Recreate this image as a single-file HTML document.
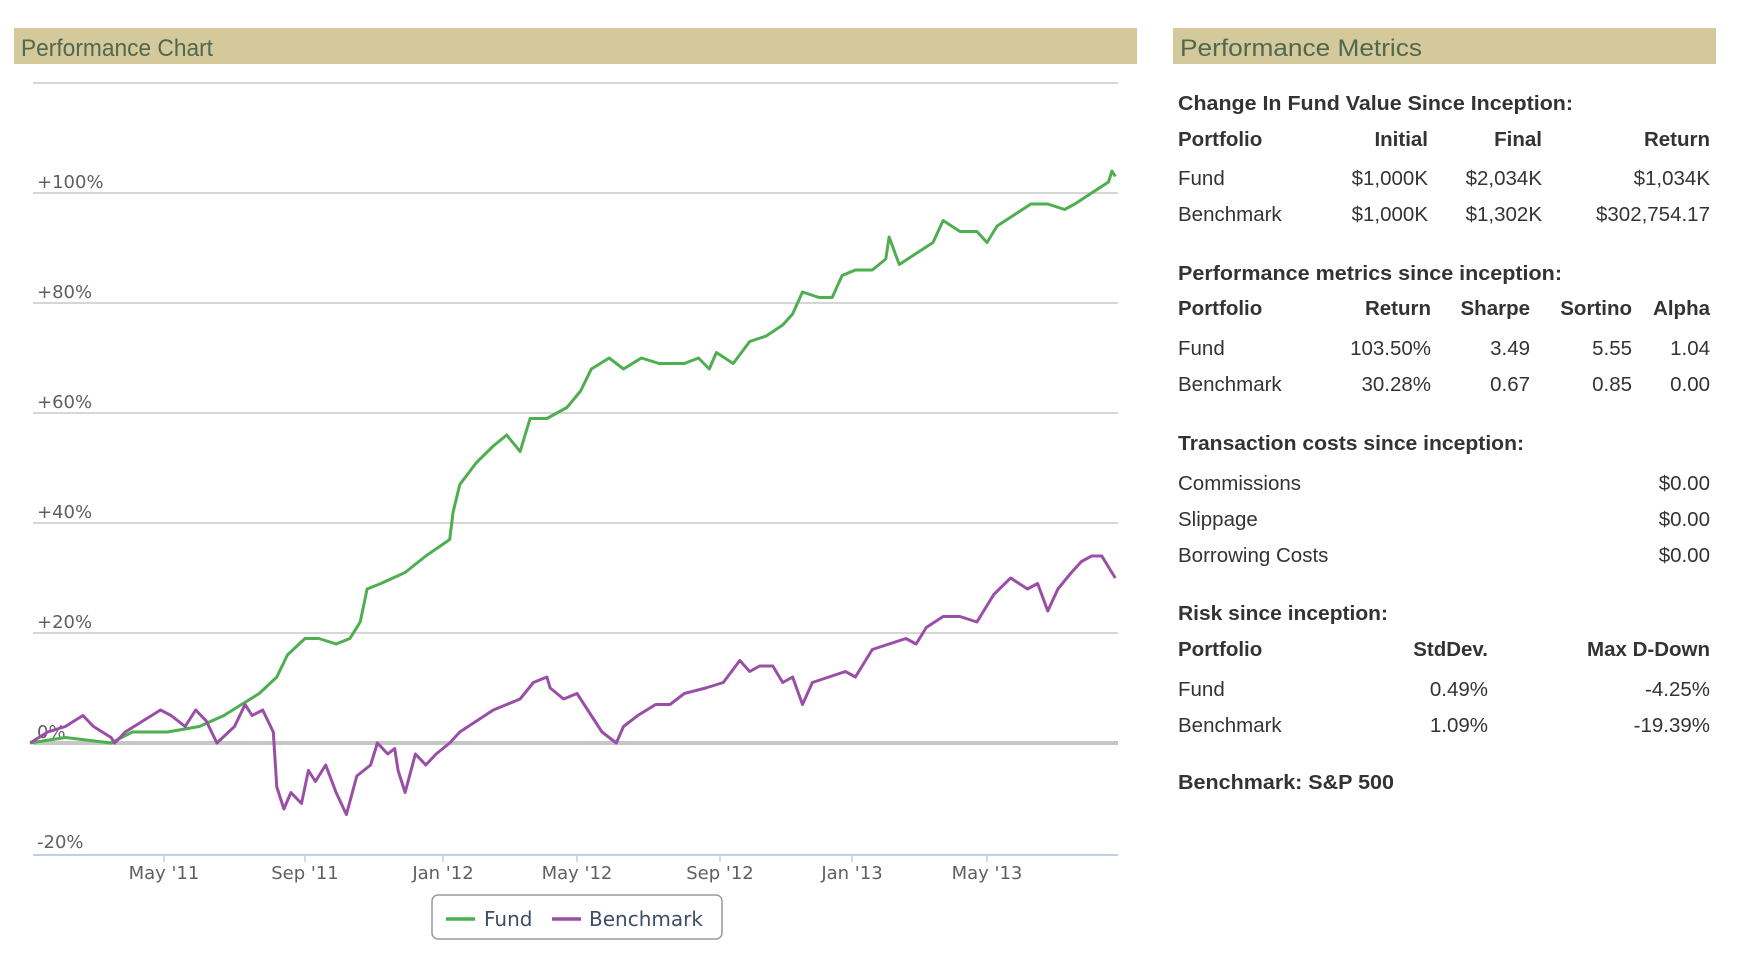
<!DOCTYPE html>
<html><head><meta charset="utf-8"><style>
html,body{margin:0;padding:0;background:#fff;width:1738px;height:974px;overflow:hidden}
svg{display:block}
</style></head><body>
<svg width="1738" height="974" xmlns="http://www.w3.org/2000/svg">
  <rect x="14" y="28" width="1123" height="36" fill="#d4c99b"/>
  <text x="21" y="56" font-family="Liberation Sans, sans-serif" font-size="24" fill="#52674f" textLength="192" lengthAdjust="spacingAndGlyphs">Performance Chart</text>
  <rect x="1173" y="28" width="543" height="36" fill="#d4c99b"/>
  <text x="1180" y="56" font-family="Liberation Sans, sans-serif" font-size="24" fill="#52674f" textLength="242" lengthAdjust="spacingAndGlyphs">Performance Metrics</text>

  <g id="grid"></g>
  <g id="ylabels"></g>
  <line x1="33" y1="855" x2="1118" y2="855" stroke="#c0d0e0" stroke-width="2"/>
  <g id="xticks"></g>
  <g id="series"></g>

  <g>
    <rect x="432" y="895" width="290" height="44" rx="6" fill="#fff" stroke="#999" stroke-width="1.5"/>
    <g>
      <line x1="446" y1="919" x2="475" y2="919" stroke="#4fae4f" stroke-width="3.5"/>
      <text x="484" y="926" font-family="DejaVu Sans, sans-serif" font-size="20" fill="#3d4d68">Fund</text>
    </g>
    <g>
      <line x1="552" y1="919" x2="581" y2="919" stroke="#9a4fa6" stroke-width="3.5"/>
      <text x="589" y="926" font-family="DejaVu Sans, sans-serif" font-size="20" fill="#3d4d68">Benchmark</text>
    </g>
  </g>

  <g font-family="Liberation Sans, sans-serif" font-size="20.5" fill="#333">
    <text x="1178" y="110" font-weight="bold" textLength="395" lengthAdjust="spacingAndGlyphs">Change In Fund Value Since Inception:</text>
    <g font-weight="bold">
      <text x="1178" y="146">Portfolio</text>
      <text x="1428" y="146" text-anchor="end">Initial</text>
      <text x="1542" y="146" text-anchor="end">Final</text>
      <text x="1710" y="146" text-anchor="end">Return</text>
    </g>
    <g>
      <text x="1178" y="185">Fund</text>
      <text x="1428" y="185" text-anchor="end">$1,000K</text>
      <text x="1542" y="185" text-anchor="end">$2,034K</text>
      <text x="1710" y="185" text-anchor="end">$1,034K</text>
    </g>
    <g>
      <text x="1178" y="221">Benchmark</text>
      <text x="1428" y="221" text-anchor="end">$1,000K</text>
      <text x="1542" y="221" text-anchor="end">$1,302K</text>
      <text x="1710" y="221" text-anchor="end">$302,754.17</text>
    </g>

    <text x="1178" y="280" font-weight="bold" textLength="384" lengthAdjust="spacingAndGlyphs">Performance metrics since inception:</text>
    <g font-weight="bold">
      <text x="1178" y="315">Portfolio</text>
      <text x="1431" y="315" text-anchor="end">Return</text>
      <text x="1530" y="315" text-anchor="end">Sharpe</text>
      <text x="1632" y="315" text-anchor="end">Sortino</text>
      <text x="1710" y="315" text-anchor="end">Alpha</text>
    </g>
    <g>
      <text x="1178" y="355">Fund</text>
      <text x="1431" y="355" text-anchor="end">103.50%</text>
      <text x="1530" y="355" text-anchor="end">3.49</text>
      <text x="1632" y="355" text-anchor="end">5.55</text>
      <text x="1710" y="355" text-anchor="end">1.04</text>
    </g>
    <g>
      <text x="1178" y="391">Benchmark</text>
      <text x="1431" y="391" text-anchor="end">30.28%</text>
      <text x="1530" y="391" text-anchor="end">0.67</text>
      <text x="1632" y="391" text-anchor="end">0.85</text>
      <text x="1710" y="391" text-anchor="end">0.00</text>
    </g>

    <text x="1178" y="450" font-weight="bold" textLength="346" lengthAdjust="spacingAndGlyphs">Transaction costs since inception:</text>
    <g><text x="1178" y="490">Commissions</text><text x="1710" y="490" text-anchor="end">$0.00</text></g>
    <g><text x="1178" y="526">Slippage</text><text x="1710" y="526" text-anchor="end">$0.00</text></g>
    <g><text x="1178" y="562">Borrowing Costs</text><text x="1710" y="562" text-anchor="end">$0.00</text></g>

    <text x="1178" y="620" font-weight="bold" textLength="210" lengthAdjust="spacingAndGlyphs">Risk since inception:</text>
    <g font-weight="bold">
      <text x="1178" y="656">Portfolio</text>
      <text x="1488" y="656" text-anchor="end">StdDev.</text>
      <text x="1710" y="656" text-anchor="end">Max D-Down</text>
    </g>
    <g>
      <text x="1178" y="696">Fund</text>
      <text x="1488" y="696" text-anchor="end">0.49%</text>
      <text x="1710" y="696" text-anchor="end">-4.25%</text>
    </g>
    <g>
      <text x="1178" y="732">Benchmark</text>
      <text x="1488" y="732" text-anchor="end">1.09%</text>
      <text x="1710" y="732" text-anchor="end">-19.39%</text>
    </g>
    <text x="1178" y="789" font-weight="bold" textLength="216" lengthAdjust="spacingAndGlyphs">Benchmark: S&amp;P 500</text>
  </g>
</svg>
<script>
// months since Jan 2011
const fundT = [0.2,1.2,2.5,3.1,4.1,5.0,5.7,6.7,7.2,7.5,8.0,8.4,8.9,9.3,9.6,9.8,10.2,10.9,11.5,12.2,12.3,12.5,13.0,13.5,13.9,14.3,14.6,15.1,15.4,15.7,16.1,16.4,16.9,17.3,17.8,18.3,19.0,19.4,19.7,19.9,20.4,20.9,21.4,21.9,22.2,22.5,23.0,23.4,23.7,24.1,24.6,25.0,25.1,25.4,25.9,26.4,26.7,27.2,27.7,28.0,28.3,28.8,29.3,29.8,30.3,30.6,31.1,31.6,31.7,31.8];
const fundV = [0,1,0,2,2,3,5,9,12,16,19,19,18,19,22,28,29,31,34,37,42,47,51,54,56,53,59,59,60,61,64,68,70,68,70,69,69,70,68,71,69,73,74,76,78,82,81,81,85,86,86,88,92,87,89,91,95,93,93,91,94,96,98,98,97,98,100,102,104,103];
const benchT = [0.2,0.7,1.2,1.7,2.0,2.5,2.6,2.9,3.4,3.9,4.2,4.6,4.9,5.2,5.5,6.0,6.3,6.5,6.8,7.1,7.2,7.4,7.6,7.9,8.1,8.3,8.6,8.9,9.2,9.5,9.9,10.1,10.4,10.6,10.7,10.9,11.2,11.5,11.8,12.2,12.5,13.0,13.5,13.9,14.3,14.7,15.1,15.2,15.6,16.0,16.4,16.7,17.1,17.3,17.7,18.2,18.6,19.0,19.6,20.1,20.6,20.9,21.2,21.6,21.9,22.2,22.5,22.8,23.3,23.8,24.1,24.6,25.1,25.6,25.9,26.2,26.7,27.2,27.7,28.2,28.7,29.2,29.5,29.8,30.1,30.5,30.8,31.1,31.4,31.6,31.8];
const benchV = [0,2,3,5,3,1,0,2,4,6,5,3,6,4,0,3,7,5,6,2,-8,-12,-9,-11,-5,-7,-4,-9,-13,-6,-4,0,-2,-1,-5,-9,-2,-4,-2,0,2,4,6,7,8,11,12,10,8,9,5,2,0,3,5,7,7,9,10,11,15,13,14,14,11,12,7,11,12,13,12,17,18,19,18,21,23,23,22,27,30,28,29,24,28,31,33,34,34,32,30];
const yTicks = [120,100,80,60,40,20,0,-20];
const yTickLabels = ["","+100%","+80%","+60%","+40%","+20%","0%","-20%"];
const xTickMonths = [4,8,12,16,20,24,28];
const xTickLabels = ["May '11","Sep '11","Jan '12","May '12","Sep '12","Jan '13","May '13"];

const NS = "http://www.w3.org/2000/svg";
const knotT = [4,8,12,16,20,24,28];
const knotX = [164,305,443,577,720,852,987];
function xScale(t){
  let i = 0;
  if (t <= knotT[0]) i = 0;
  else if (t >= knotT[knotT.length-1]) i = knotT.length-2;
  else { while (t > knotT[i+1]) i++; }
  const s = (knotX[i+1]-knotX[i])/(knotT[i+1]-knotT[i]);
  return knotX[i] + (t-knotT[i])*s;
}
function yScale(v){ return 743 - v*5.5; }

const grid = document.getElementById('grid');
const yl = document.getElementById('ylabels');
yTicks.forEach((v,i)=>{
  if (v === -20) return;
  const ln = document.createElementNS(NS,'line');
  ln.setAttribute('x1',33); ln.setAttribute('x2',1118);
  ln.setAttribute('y1',yScale(v)); ln.setAttribute('y2',yScale(v));
  ln.setAttribute('stroke', v===0 ? '#c6c6c6' : '#c8c8c8');
  ln.setAttribute('stroke-width', v===0 ? 4 : 1.5);
  
  
  grid.appendChild(ln);
});
yTicks.forEach((v,i)=>{
  if (!yTickLabels[i]) return;
  const t = document.createElementNS(NS,'text');
  t.setAttribute('x',37); t.setAttribute('y',yScale(v)-5);
  t.setAttribute('font-family','DejaVu Sans, sans-serif');
  t.setAttribute('font-size','18'); t.setAttribute('fill','#606060');
  t.textContent = yTickLabels[i];
  
  
  yl.appendChild(t);
});
const xt = document.getElementById('xticks');
xTickMonths.forEach((m,i)=>{
  const x = xScale(m);
  const tk = document.createElementNS(NS,'line');
  tk.setAttribute('x1',x); tk.setAttribute('x2',x);
  tk.setAttribute('y1',855); tk.setAttribute('y2',862);
  tk.setAttribute('stroke','#c0d0e0'); tk.setAttribute('stroke-width',1.5);
  
  
  xt.appendChild(tk);
  const t = document.createElementNS(NS,'text');
  t.setAttribute('x',x); t.setAttribute('y',879);
  t.setAttribute('text-anchor','middle');
  t.setAttribute('font-family','DejaVu Sans, sans-serif');
  t.setAttribute('font-size','18'); t.setAttribute('fill','#606060');
  t.textContent = xTickLabels[i];
  
  
  xt.appendChild(t);
});
const sg = document.getElementById('series');
function drawLine(ts, vs, color, name){
  const p = document.createElementNS(NS,'path');
  let d = '';
  ts.forEach((t,i)=>{ d += (i?'L':'M') + xScale(t).toFixed(1) + ',' + yScale(vs[i]).toFixed(1); });
  p.setAttribute('d', d);
  p.setAttribute('fill','none'); p.setAttribute('stroke',color);
  p.setAttribute('stroke-width','3'); p.setAttribute('stroke-linejoin','round');
  
  
  sg.appendChild(p);
}
drawLine(fundT, fundV, '#4fae4f', 'fund-line');
drawLine(benchT, benchV, '#9a4fa6', 'benchmark-line');
</script>
</body></html>
